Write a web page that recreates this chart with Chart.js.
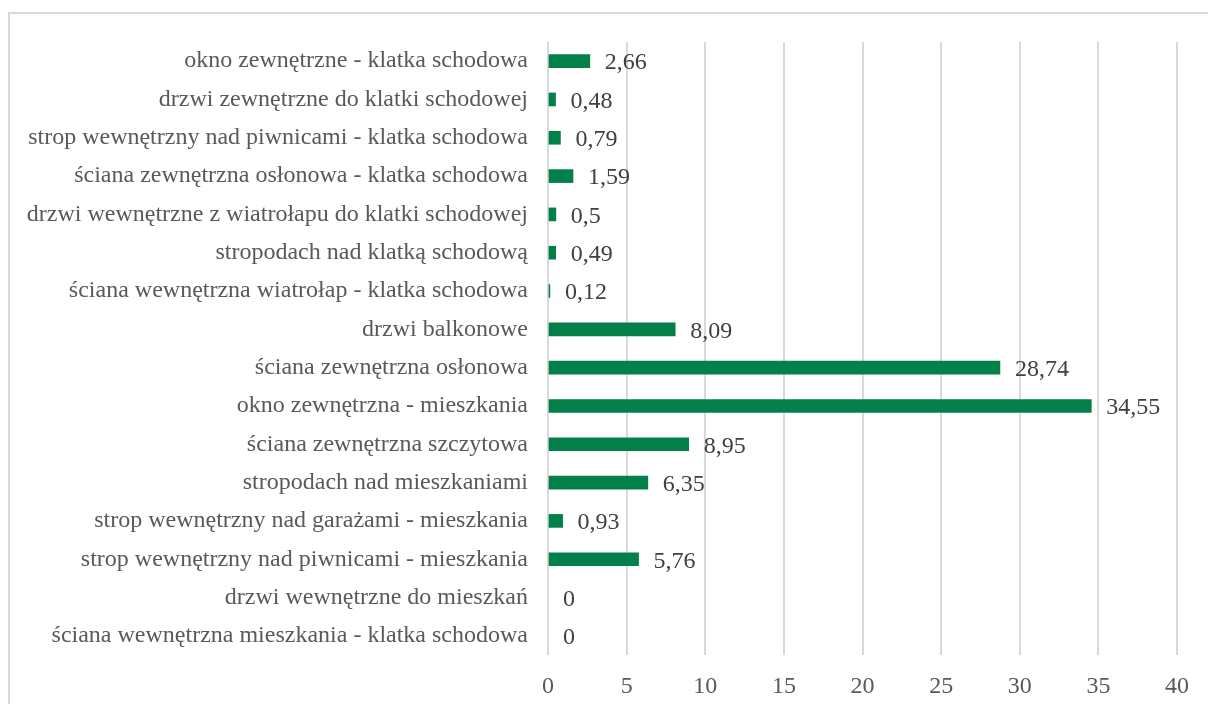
<!DOCTYPE html>
<html>
<head>
<meta charset="utf-8">
<script src="https://cdn.jsdelivr.net/npm/chart.js@4/dist/chart.umd.min.js"></script>
<style>
  html, body { margin: 0; padding: 0; background: #fff; overflow: hidden; }
  #frame { position: absolute; left: 8px; top: 12px; width: 1230px; height: 720px; border: 2px solid #d9d9d9; box-sizing: border-box; }
  #wrap { position: absolute; left: 0; top: 0; width: 1208px; height: 704px; }
</style>
</head>
<body>
<div id="frame"></div>
<div id="wrap"><canvas id="c" width="1208" height="704"></canvas></div>
<script>
const categories = [
  'okno zewnętrzne - klatka schodowa',
  'drzwi zewnętrzne do klatki schodowej',
  'strop wewnętrzny nad piwnicami - klatka schodowa',
  'ściana zewnętrzna osłonowa - klatka schodowa',
  'drzwi wewnętrzne z wiatrołapu do klatki schodowej',
  'stropodach nad klatką schodową',
  'ściana wewnętrzna wiatrołap - klatka schodowa',
  'drzwi balkonowe',
  'ściana zewnętrzna osłonowa',
  'okno zewnętrzna - mieszkania',
  'ściana zewnętrzna szczytowa',
  'stropodach nad mieszkaniami',
  'strop wewnętrzny nad garażami - mieszkania',
  'strop wewnętrzny nad piwnicami - mieszkania',
  'drzwi wewnętrzne do mieszkań',
  'ściana wewnętrzna mieszkania - klatka schodowa'
];
const values = [2.66, 0.48, 0.79, 1.59, 0.5, 0.49, 0.12, 8.09, 28.74, 34.55, 8.95, 6.35, 0.93, 5.76, 0, 0];
const xTicks = [0, 5, 10, 15, 20, 25, 30, 35, 40];

const FONT = "'Liberation Serif', 'Times New Roman', serif";
const BAR = '#03804a';

// writes each value next to the end of its bar, with a decimal comma
const valueLabels = {
  id: 'valueLabels',
  afterDatasetsDraw(chart) {
    const ctx = chart.ctx;
    const meta = chart.getDatasetMeta(0);
    ctx.save();
    ctx.font = '24px ' + FONT;
    ctx.fillStyle = '#404040';
    ctx.textAlign = 'left';
    ctx.textBaseline = 'middle';
    meta.data.forEach((bar, i) => {
      const txt = String(values[i]).replace('.', ',');
      ctx.fillText(txt, bar.x + 15, bar.y + 2);
    });
    ctx.restore();
  }
};

new Chart(document.getElementById('c'), {
  type: 'bar',
  data: {
    labels: categories,
    datasets: [{
      data: values,
      backgroundColor: values.map(v => v === 0 ? 'rgba(0,0,0,0)' : BAR),
      barThickness: 13
    }]
  },
  options: {
    indexAxis: 'y',
    responsive: false,
    animation: false,
    layout: { padding: { top: 42, right: 31, bottom: 0, left: 0 } },
    plugins: { legend: { display: false }, tooltip: { enabled: false } },
    scales: {
      x: {
        min: 0, max: 40,
        afterBuildTicks(scale) { scale.ticks = xTicks.map(v => ({ value: v })); },
        afterFit(scale) { scale.height = 49; },
        grid: { color: '#d9d9d9', lineWidth: 2, drawTicks: false },
        border: { display: false },
        ticks: { color: '#595959', font: { family: FONT, size: 24 }, padding: 17 }
      },
      y: {
        afterFit(scale) { scale.width = 548; },
        grid: { display: false, drawTicks: false },
        border: { display: false },
        ticks: { color: '#595959', font: { family: FONT, size: 24 }, padding: 20 }
      }
    }
  },
  plugins: [valueLabels]
});
</script>
</body>
</html>
